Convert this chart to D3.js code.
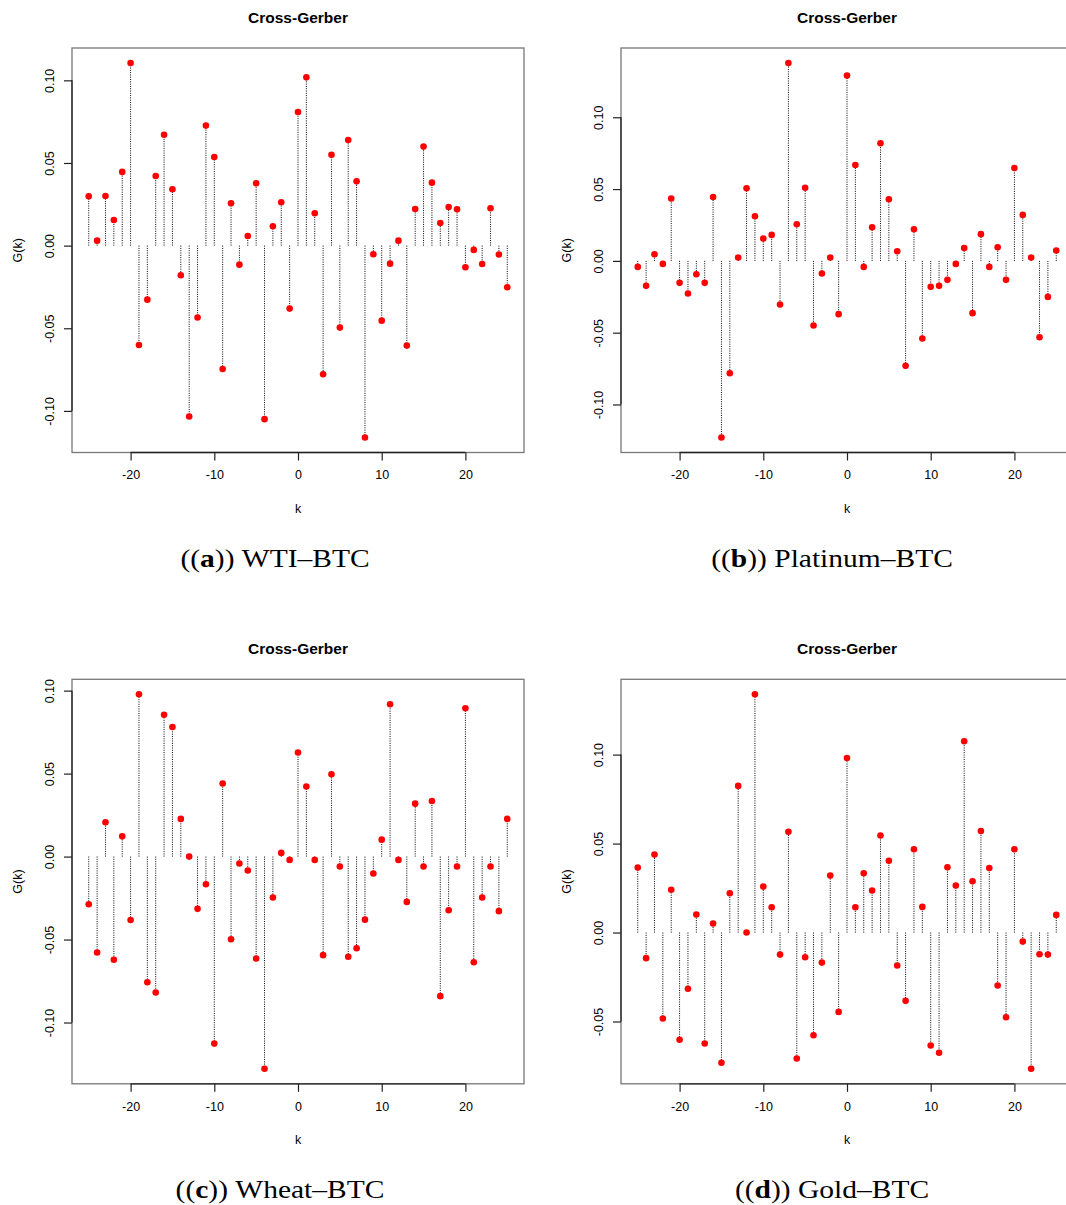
<!DOCTYPE html>
<html>
<head>
<meta charset="utf-8">
<script src="https://cdn.jsdelivr.net/npm/d3@7"></script>
<style>
  html, body { margin: 0; padding: 0; background: #fff; overflow: hidden; }
  svg { display: block; }
</style>
</head>
<body>
<div id="chart"></div>
<script>
// lags k
const lags = [-25,-24,-23,-22,-21,-20,-19,-18,-17,-16,-15,-14,-13,-12,-11,-10,-9,-8,-7,-6,-5,-4,-3,-2,-1,
  0,1,2,3,4,5,6,7,8,9,10,11,12,13,14,15,16,17,18,19,20,21,22,23,24,25];

// G(k) values
const wtiBtc = [0.0298,0.0030,0.0300,0.0155,0.0446,0.1105,-0.0601,-0.0327,0.0421,0.0671,0.0341,-0.0179,-0.1034,
  -0.0435,0.0726,0.0536,-0.0746,0.0256,-0.0115,0.0058,0.0377,-0.1050,0.0117,0.0262,-0.0381,
  0.0808,0.1018,0.0196,-0.0778,0.0550,-0.0496,0.0639,0.0389,-0.1161,-0.0052,-0.0454,-0.0109,0.0030,
  -0.0605,0.0222,0.0599,0.0381,0.0137,0.0234,0.0220,-0.0131,-0.0026,-0.0111,0.0226,-0.0054,-0.0252];

const platinumBtc = [-0.0042,-0.0174,0.0046,-0.0021,0.0434,-0.0153,-0.0227,-0.0093,-0.0153,0.0445,-0.1230,
  -0.0782,0.0023,0.0506,0.0311,0.0155,0.0181,-0.0304,0.1378,0.0255,0.0509,-0.0450,-0.0088,0.0023,-0.0371,
  0.1290,0.0668,-0.0042,0.0234,0.0819,0.0429,0.0067,-0.0731,0.0220,-0.0541,-0.0181,-0.0174,-0.0132,
  -0.0021,0.0090,-0.0364,0.0186,-0.0042,0.0095,-0.0132,0.0647,0.0320,0.0023,-0.0532,-0.0251,0.0072];

const wheatBtc = [-0.0287,-0.0578,0.0207,-0.0622,0.0122,-0.0382,0.0978,-0.0757,-0.0819,0.0855,0.0781,0.0227,
  0.0000,-0.0315,-0.0167,-0.1127,0.0440,-0.0498,-0.0042,-0.0084,-0.0614,-0.1279,-0.0247,0.0022,-0.0020,
  0.0627,0.0422,-0.0020,-0.0594,0.0496,-0.0060,-0.0604,-0.0552,-0.0380,-0.0102,0.0102,0.0918,-0.0020,
  -0.0273,0.0319,-0.0060,0.0335,-0.0841,-0.0323,-0.0060,0.0894,-0.0637,-0.0247,-0.0060,-0.0329,0.0227];

const goldBtc = [0.0365,-0.0144,0.0438,-0.0483,0.0240,-0.0603,-0.0316,0.0101,-0.0624,0.0051,-0.0732,0.0221,
  0.0824,0.0000,0.1339,0.0258,0.0142,-0.0124,0.0566,-0.0708,-0.0139,-0.0577,-0.0169,0.0320,-0.0446,
  0.0981,0.0142,0.0333,0.0236,0.0545,0.0403,-0.0185,-0.0384,0.0468,0.0144,-0.0635,-0.0676,0.0367,
  0.0264,0.1075,0.0288,0.0571,0.0363,-0.0298,-0.0476,0.0468,-0.0051,-0.0766,-0.0122,-0.0124,0.0099];

const xTicks = [-20, -10, 0, 10, 20];
const yTicksWide = [-0.10, -0.05, 0.00, 0.05, 0.10];
const yTicksGold = [-0.05, 0.00, 0.05, 0.10];

const titles = ["Cross-Gerber", "Cross-Gerber", "Cross-Gerber", "Cross-Gerber"];
const captionTags = ["a", "b", "c", "d"];
const captionNames = ["WTI–BTC", "Platinum–BTC", "Wheat–BTC", "Gold–BTC"];

const W = 1066, H = 1205;
const svg = d3.select("#chart").append("svg").attr("width", W).attr("height", H);

const boxW = 452, boxH = 404.5;
const panels = [
  {left: 72,  top: 48,    values: wtiBtc,      yTicks: yTicksWide, capX: 275},
  {left: 621, top: 48,    values: platinumBtc, yTicks: yTicksWide, capX: 832},
  {left: 72,  top: 679.3, values: wheatBtc,    yTicks: yTicksWide, capX: 280},
  {left: 621, top: 679.3, values: goldBtc,     yTicks: yTicksGold, capX: 832}
];

// R style padding: 4% of the range on each side
const pad = ext => { const r = ext[1] - ext[0]; return [ext[0] - 0.04 * r, ext[1] + 0.04 * r]; };

const sans = "'Liberation Sans', Arial, Helvetica, sans-serif";
const fmt = v => v.toFixed(2);

panels.forEach((p, i) => {
  const g = svg.append("g").attr("transform", `translate(${p.left},${p.top})`);

  const x = d3.scaleLinear().domain(pad(d3.extent(lags))).range([0, boxW]);
  const y = d3.scaleLinear().domain(pad(d3.extent(p.values))).range([boxH, 0]);
  const data = lags.map((k, j) => ({k, v: p.values[j]}));

  // stems
  g.append("g").selectAll("line").data(data).join("line")
    .attr("x1", d => x(d.k)).attr("x2", d => x(d.k))
    .attr("y1", y(0)).attr("y2", d => y(d.v))
    .attr("stroke", "#000").attr("stroke-width", 1)
    .attr("stroke-dasharray", "1,1.3");

  // points
  g.append("g").selectAll("circle").data(data).join("circle")
    .attr("cx", d => x(d.k)).attr("cy", d => y(d.v))
    .attr("r", 3.3).attr("fill", "#ff0000");

  // box
  g.append("rect").attr("x", 0).attr("y", 0).attr("width", boxW).attr("height", boxH)
    .attr("fill", "none").attr("stroke", "#777").attr("stroke-width", 1.3);

  // x axis
  const xa = g.append("g").attr("transform", `translate(0,${boxH})`)
    .call(d3.axisBottom(x).tickValues(xTicks).tickFormat(d => String(d)).tickSizeOuter(0).tickSizeInner(8).tickPadding(10));
  xa.select(".domain").attr("stroke", "#222").attr("stroke-width", 1.3)
    .attr("d", `M${x(xTicks[0])},0H${x(xTicks[xTicks.length - 1])}`);
  xa.selectAll(".tick line").attr("stroke", "#222").attr("stroke-width", 1.2);
  xa.selectAll(".tick text").attr("font-family", sans).attr("font-size", 12.5).attr("fill", "#000");

  // y axis, labels rotated like R
  const ya = g.append("g")
    .call(d3.axisLeft(y).tickValues(p.yTicks).tickFormat(fmt).tickSizeOuter(0).tickSizeInner(8));
  ya.select(".domain").attr("stroke", "#222").attr("stroke-width", 1.3)
    .attr("d", `M0,${y(p.yTicks[0])}V${y(p.yTicks[p.yTicks.length - 1])}`);
  ya.selectAll(".tick line").attr("stroke", "#222").attr("stroke-width", 1.2);
  ya.selectAll(".tick text")
    .attr("x", null).attr("dy", null)
    .attr("transform", "translate(-18,0) rotate(-90)")
    .attr("text-anchor", "middle")
    .attr("font-family", sans).attr("font-size", 12.5).attr("fill", "#000");

  // title and axis titles
  g.append("text").attr("x", boxW / 2).attr("y", -25.3).attr("text-anchor", "middle")
    .attr("font-family", sans).attr("font-weight", "bold").attr("font-size", 15.5)
    .text(titles[i]);
  g.append("text").attr("x", boxW / 2).attr("y", boxH + 60.5).attr("text-anchor", "middle")
    .attr("font-family", sans).attr("font-size", 12.5).text("k");
  g.append("text").attr("transform", `translate(-50,${boxH / 2}) rotate(-90)`)
    .attr("text-anchor", "middle").attr("font-family", sans).attr("font-size", 12.5).text("G(k)");

  // caption below the panel
  const cap = svg.append("text")
    .attr("transform", `translate(${p.capX},${p.top + boxH + 114}) scale(1.18,1)`)
    .attr("text-anchor", "middle")
    .attr("font-family", "'Liberation Serif', 'Times New Roman', serif")
    .attr("font-size", 25).attr("fill", "#000");
  cap.append("tspan").text("((");
  cap.append("tspan").attr("font-weight", "bold").text(captionTags[i]);
  cap.append("tspan").text("))\u00a0" + captionNames[i]);
});
</script>
</body>
</html>
